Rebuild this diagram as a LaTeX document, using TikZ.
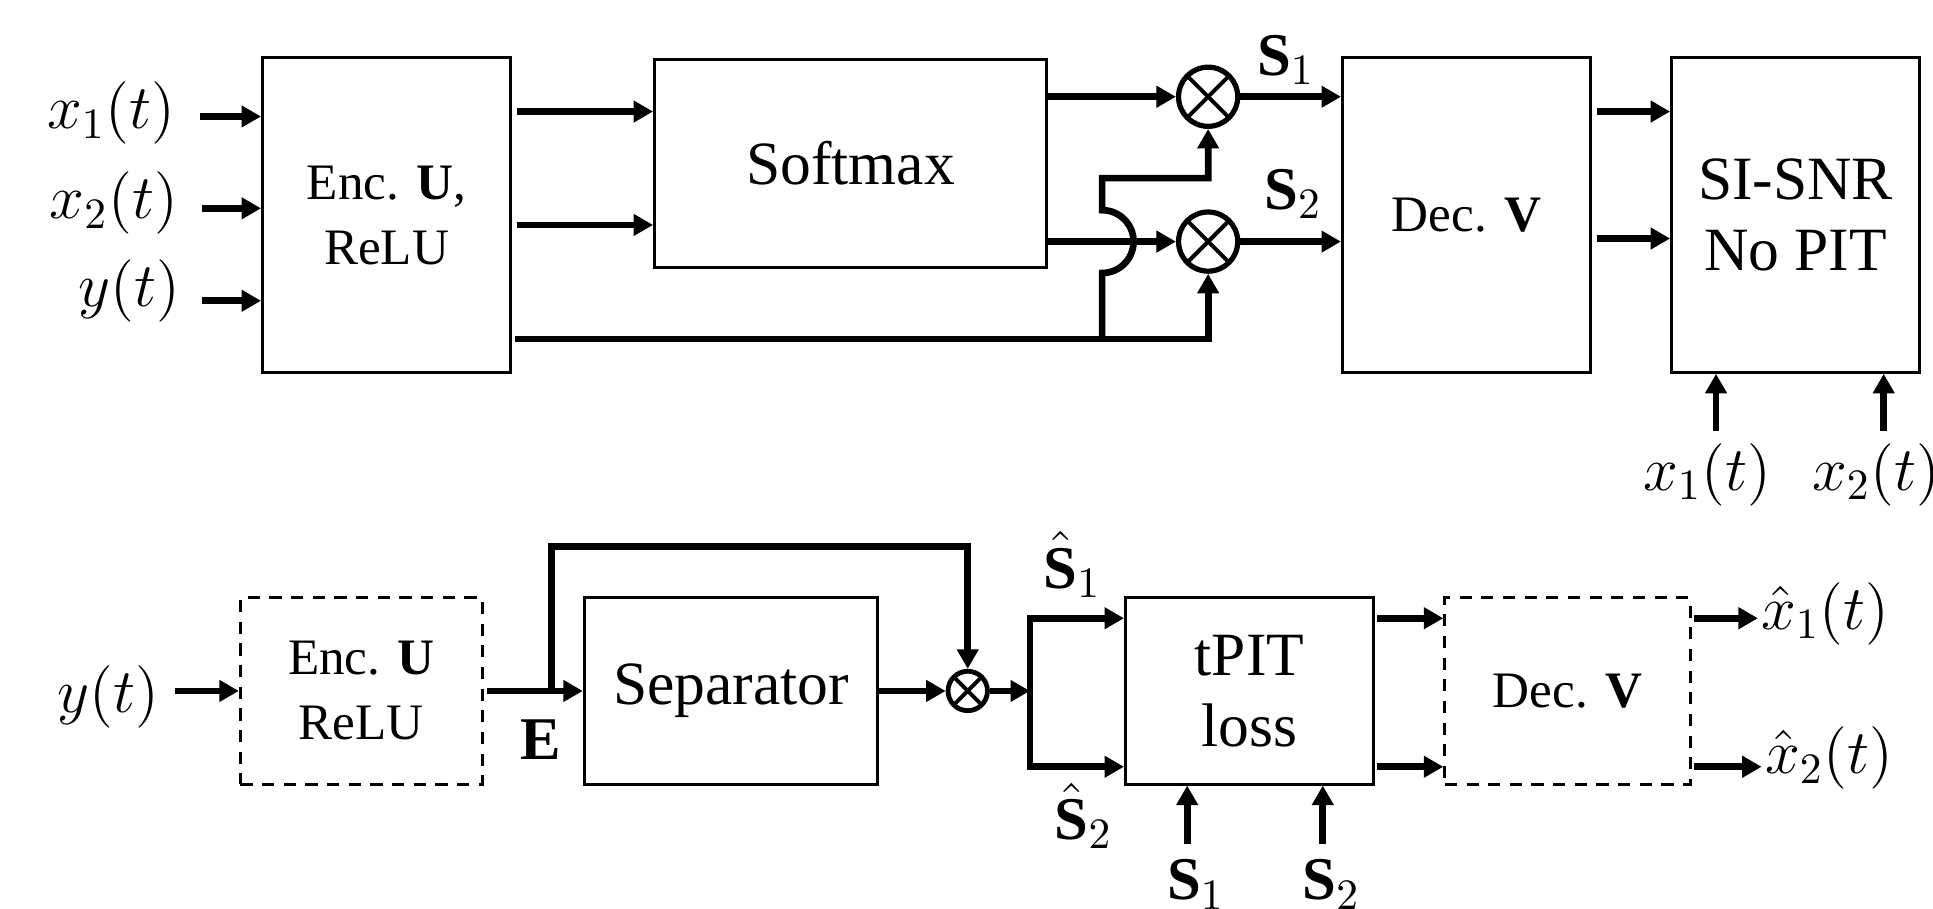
\documentclass[tikz,border=0pt]{standalone}
\usepackage{amsmath,amssymb}
\usepackage{fontspec}
\setmainfont{Liberation Serif}
\usepackage{tikz}
\usetikzlibrary{arrows,arrows.meta,positioning}

\begin{document}
\begin{tikzpicture}[>={Triangle[length=4.5pt,width=4.8pt]}, line width=1.55pt,
  box/.style={draw, line width=0.7pt, inner sep=0pt, align=center, minimum width=2.01cm, minimum height=2.55cm},
  dbox/.style={box, dash pattern=on 2.8pt off 2.2pt, minimum height=1.51cm},
  mul/.style={draw, circle, line width=1.2pt, inner sep=0pt, minimum size=0.48cm,
    path picture={\draw[line width=0.9pt] (path picture bounding box.north west) -- (path picture bounding box.south east)
      (path picture bounding box.south west) -- (path picture bounding box.north east);}},
  big/.style={font=\fontsize{14.2}{16.5}\selectfont},
  small/.style={font=\fontsize{11.8}{15}\selectfont},
  lab/.style={font=\fontsize{14}{16}\selectfont, inner sep=0pt}]
  \clip (0,0) rectangle (15.68,7.37);

  % Training with SI-SNR, no PIT
  \node (enc) at (3.135,5.625) [box, small] {Enc. \textbf{U},\\ReLU};
  \node (soft) at (6.90,6.045) [box, big, minimum width=3.18cm, minimum height=1.69cm] {Softmax};
  \node (mul1) at (9.80,6.585) [mul] {};
  \node (mul2) at (9.80,5.41) [mul] {};
  \node (dec) at (11.895,5.625) [box, small] {Dec. \textbf{V}};
  \node (snr) at (14.565,5.625) [box, big] {SI-SNR\\No PIT};

  \node (x1) at (1.45,6.45) [lab, anchor=east] {$x_1(t)$};
  \node (x2) at (1.47,5.72) [lab, anchor=east] {$x_2(t)$};
  \node (yt) at (1.49,5.01) [lab, anchor=east] {$y(t)$};
  \draw[->] ([xshift=1.7mm]x1.east |- 0,6.425) -- (enc.west |- 0,6.425);
  \draw[->] ([xshift=1.7mm]x2.east |- 0,5.68) -- (enc.west |- 0,5.68);
  \draw[->] ([xshift=1.5mm]yt.east |- 0,4.93) -- (enc.west |- 0,4.93);

  \draw[->, shorten <=0.04cm] ([yshift=4.2mm]soft.west -| enc.east) -- ([yshift=4.2mm]soft.west);
  \draw[->, shorten <=0.04cm] ([yshift=-5mm]soft.west -| enc.east) -- ([yshift=-5mm]soft.west);
  \draw[->] (soft.east |- mul1) -- (mul1);
  \draw[->] (soft.east |- mul2) -- (mul2);

  % skip connection with hop
  \coordinate (skip) at (4.18,4.62);
  \coordinate (jn) at (8.94,4.62);
  \coordinate (hop) at (jn |- mul2);
  \draw[->] (skip) -| (mul2.south);
  \draw[->] (jn) -- ([yshift=-2.55mm]hop) arc[start angle=-90, end angle=90, radius=2.55mm] -- ++(0,2.6mm) -| (mul1.south);

  \draw[->] (mul1) -- (mul1 -| dec.west);
  \draw[->] (mul2) -- (mul2 -| dec.west);
  \node (s1) at (10.43,6.76) [lab, anchor=base] {$\textbf{S}_1$};
  \node (s2) at (10.49,5.67) [lab, anchor=base] {$\textbf{S}_2$};

  \draw[->, shorten <=0.04cm] ([yshift=8.4mm]snr.west -| dec.east) -- ([yshift=8.4mm]snr.west);
  \draw[->, shorten <=0.04cm] ([yshift=-1.9mm]snr.west -| dec.east) -- ([yshift=-1.9mm]snr.west);

  \node (r1) at (13.85,3.52) [lab] {$x_1(t)$};
  \node (r2) at (15.22,3.52) [lab] {$x_2(t)$};
  \draw[->] ([xshift=0.7mm,yshift=0.7mm]r1.north) -- ([xshift=0.7mm]r1.north |- snr.south);
  \draw[->] ([xshift=0.6mm,yshift=0.7mm]r2.north) -- ([xshift=0.6mm]r2.north |- snr.south);

  % Training with tPIT
  \node (encd) at (2.93,1.765) [dbox, small, minimum width=1.96cm] {Enc. \textbf{U}\\ReLU};
  \node (sep) at (5.93,1.765) [box, big, minimum width=2.38cm, minimum height=1.51cm] {Separator};
  \node (mul3) at (7.85,1.765) [mul, minimum size=0.32cm, line width=1.1pt] {};
  \node (tpit) at (10.135,1.765) [box, big, minimum height=1.51cm] {tPIT\\loss};
  \node (decd) at (12.715,1.765) [dbox, small, minimum width=1.99cm] {Dec. \textbf{V}};

  \node (yb) at (0.88,1.72) [lab] {$y(t)$};
  \draw[->] ([xshift=1.0mm]yb.east |- encd.west) -- (encd.west);

  \draw[->, shorten <=0.03cm] (encd.east) -- (sep.west);
  \node (e) at (4.39,1.205) [lab, anchor=base] {$\textbf{E}$};
  \coordinate (br) at (4.475,1.765);
  \draw[->] (br) -- ++(0,1.17) -| (mul3.north);
  \draw[->] (sep.east) -- (mul3.west);

  \coordinate (split) at (8.355,1.765);
  \draw[->] (mul3.east) -- (split);
  \draw[->] (split) |- ([yshift=5.9mm]tpit.west);
  \draw[->] (split) |- ([yshift=-6.15mm]tpit.west);
  \node (sh1) at (8.70,2.60) [lab, anchor=base] {$\hat{\textbf{S}}_1$};
  \node (sh2) at (8.79,0.56) [lab, anchor=base] {$\hat{\textbf{S}}_2$};

  \node (g1) at (9.70,0.07) [lab, anchor=base] {$\textbf{S}_1$};
  \node (g2) at (10.80,0.07) [lab, anchor=base] {$\textbf{S}_2$};
  \draw[->] ([xshift=-0.7mm,yshift=1mm]g1.north) -- ([xshift=-0.7mm]g1.north |- tpit.south);
  \draw[->] ([xshift=-0.7mm,yshift=1mm]g2.north) -- ([xshift=-0.7mm]g2.north |- tpit.south);

  \draw[->, shorten <=0.02cm] ([yshift=5.9mm]tpit.east) -- ([yshift=5.9mm]decd.west);
  \draw[->, shorten <=0.02cm] ([yshift=-6.15mm]tpit.east) -- ([yshift=-6.15mm]decd.west);

  \node (xh1) at (14.26,2.39) [lab, anchor=west] {$\hat{x}_1(t)$};
  \node (xh2) at (14.29,1.22) [lab, anchor=west] {$\hat{x}_2(t)$};
  \draw[->, shorten <=0.02cm] ([yshift=5.9mm]decd.east) -- ([yshift=5.9mm]decd.east -| xh1.west);
  \draw[->, shorten <=0.02cm] ([yshift=-6.15mm]decd.east) -- ([yshift=-6.15mm]decd.east -| xh2.west);
\end{tikzpicture}
\end{document}
